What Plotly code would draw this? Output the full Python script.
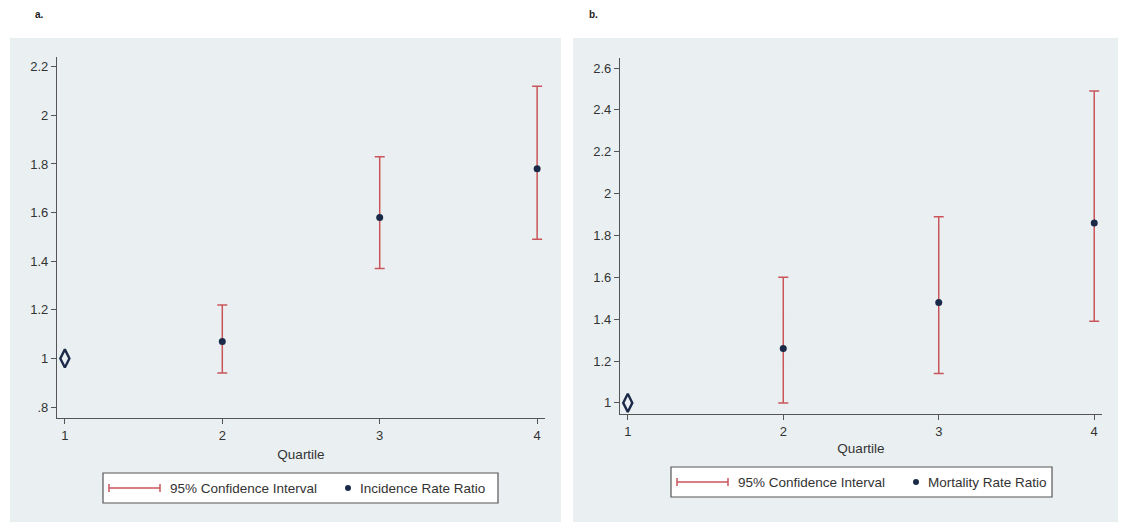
import plotly.graph_objects as go

W, H = 1121, 523

quartiles = [1, 2, 3, 4]
# Panel a: Incidence Rate Ratio
irr = [1.0, 1.07, 1.58, 1.78]
irr_lo = [None, 0.94, 1.37, 1.49]
irr_hi = [None, 1.22, 1.83, 2.12]
# Panel b: Mortality Rate Ratio
mrr = [1.0, 1.26, 1.48, 1.86]
mrr_lo = [None, 1.00, 1.14, 1.39]
mrr_hi = [None, 1.60, 1.89, 2.49]

ya_ticks = [0.8, 1.0, 1.2, 1.4, 1.6, 1.8, 2.0, 2.2]
ya_text = [".8", "1", "1.2", "1.4", "1.6", "1.8", "2", "2.2"]
yb_ticks = [1.0, 1.2, 1.4, 1.6, 1.8, 2.0, 2.2, 2.4, 2.6]
yb_text = ["1", "1.2", "1.4", "1.6", "1.8", "2", "2.2", "2.4", "2.6"]

RED = "#c9555b"
NAVY = "#1b2a48"
PANEL = "#eaf0f2"
FONT = "Liberation Sans, Arial, sans-serif"


def px(x):
    return x / W


def py(y):
    return 1 - y / H


fig = go.Figure()


def add_panel(xa, ya, est, lo, hi):
    xs = quartiles[1:]
    ys = est[1:]
    plus = [h - e for h, e in zip(hi[1:], ys)]
    minus = [e - l for e, l in zip(ys, lo[1:])]
    fig.add_trace(go.Scatter(
        x=xs, y=ys, mode="markers", xaxis=xa, yaxis=ya,
        marker=dict(color=NAVY, size=7),
        error_y=dict(type="data", symmetric=False, array=plus, arrayminus=minus,
                     color=RED, thickness=1.5, width=5),
        showlegend=False, hoverinfo="x+y"))
    fig.add_trace(go.Scatter(
        x=[quartiles[0]], y=[est[0]], mode="markers", xaxis=xa, yaxis=ya,
        marker=dict(symbol="diamond-tall-open", color=NAVY, size=13,
                    line=dict(color=NAVY, width=2.4)),
        showlegend=False, hoverinfo="x+y"))


add_panel("x", "y", irr, irr_lo, irr_hi)
add_panel("x2", "y2", mrr, mrr_lo, mrr_hi)

axis_common = dict(showline=True, linecolor="#555555", linewidth=1.2,
                   ticks="outside", ticklen=5, tickcolor="#555555",
                   tickfont=dict(family=FONT, size=13, color="#333333"),
                   zeroline=False)

fig.update_layout(
    width=W, height=H, margin=dict(l=0, r=0, t=0, b=0),
    paper_bgcolor="white", plot_bgcolor="white",
    font=dict(family=FONT, color="#333333"),
    xaxis=dict(domain=[px(57), px(545)], range=[0.95, 4.05],
               tickvals=quartiles, ticktext=[str(q) for q in quartiles],
               showgrid=False, anchor="y",
               title=dict(text="Quartile", font=dict(size=13.5, family=FONT, color="#333333"),
                          standoff=7),
               **axis_common),
    yaxis=dict(domain=[py(418), py(57)], range=[0.755, 2.24],
               tickvals=ya_ticks, ticktext=ya_text, anchor="x",
               showgrid=True, gridcolor="#e9eef1", gridwidth=1,
               **axis_common),
    xaxis2=dict(domain=[px(620), px(1102)], range=[0.95, 4.05],
                tickvals=quartiles, ticktext=[str(q) for q in quartiles],
                showgrid=False, anchor="y2",
                title=dict(text="Quartile", font=dict(size=13.5, family=FONT, color="#333333"),
                           standoff=5),
                **axis_common),
    yaxis2=dict(domain=[py(414), py(58)], range=[0.947, 2.648],
                tickvals=yb_ticks, ticktext=yb_text, anchor="x2",
                showgrid=True, gridcolor="#e9eef1", gridwidth=1,
                **axis_common),
)

shapes = []
# panel backgrounds
for x0, x1 in [(10, 561), (573, 1118)]:
    shapes.append(dict(type="rect", xref="paper", yref="paper", layer="below",
                       x0=px(x0), x1=px(x1), y0=py(522), y1=py(38),
                       fillcolor=PANEL, line=dict(width=0)))

annotations = [
    dict(text="<b>a.</b>", x=px(33), y=py(15), xref="paper", yref="paper",
         showarrow=False, xanchor="left", yanchor="middle",
         font=dict(size=10, family=FONT, color="#222222")),
    dict(text="<b>b.</b>", x=px(587), y=py(15), xref="paper", yref="paper",
         showarrow=False, xanchor="left", yanchor="middle",
         font=dict(size=10, family=FONT, color="#222222")),
]


def add_legend(bx0, bx1, by0, by1, label2):
    cy = (by0 + by1) / 2
    shapes.append(dict(type="rect", xref="paper", yref="paper",
                       x0=px(bx0), x1=px(bx1), y0=py(by1), y1=py(by0),
                       fillcolor="white", line=dict(color="#555555", width=1.2)))
    lx0, lx1 = bx0 + 6, bx0 + 57
    shapes.append(dict(type="line", xref="paper", yref="paper",
                       x0=px(lx0), x1=px(lx1), y0=py(cy), y1=py(cy),
                       line=dict(color=RED, width=1.5)))
    for lx in (lx0, lx1):
        shapes.append(dict(type="line", xref="paper", yref="paper",
                           x0=px(lx), x1=px(lx), y0=py(cy - 4), y1=py(cy + 4),
                           line=dict(color=RED, width=1.5)))
    annotations.append(dict(text="95% Confidence Interval", x=px(lx1 + 8), y=py(cy),
                            xref="paper", yref="paper", showarrow=False,
                            xanchor="left", yanchor="middle",
                            font=dict(size=13.5, family=FONT, color="#333333")))
    dx = bx0 + 245
    shapes.append(dict(type="circle", xref="paper", yref="paper",
                       x0=px(dx - 3), x1=px(dx + 3), y0=py(cy + 3), y1=py(cy - 3),
                       fillcolor=NAVY, line=dict(color=NAVY, width=0)))
    annotations.append(dict(text=label2, x=px(dx + 10), y=py(cy),
                            xref="paper", yref="paper", showarrow=False,
                            xanchor="left", yanchor="middle",
                            font=dict(size=13.5, family=FONT, color="#333333")))


add_legend(103, 498, 473, 503, "Incidence Rate Ratio")
add_legend(671, 1052, 467, 497, "Mortality Rate Ratio")

fig.update_layout(shapes=shapes, annotations=annotations)

fig.write_html("out.html", config={"displayModeBar": False},
               post_script="document.body.style.margin='0px';document.body.style.padding='0px';")
